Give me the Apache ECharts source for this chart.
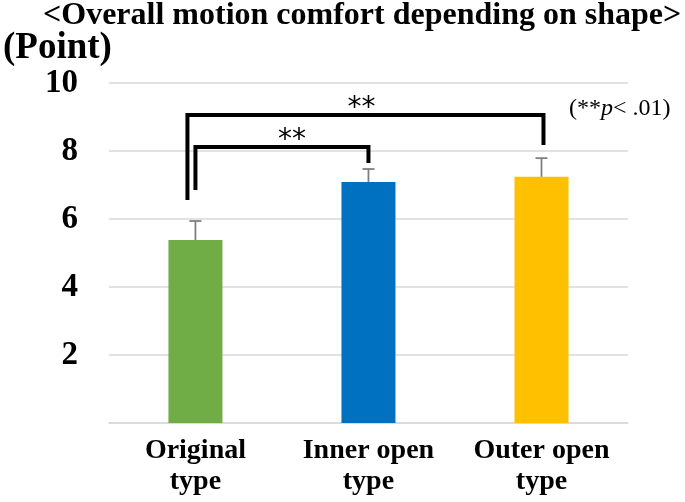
<!DOCTYPE html>
<html>
<head>
<meta charset="utf-8">
<script src="https://cdn.jsdelivr.net/npm/echarts@6/dist/echarts.min.js"></script>
<style>html,body{margin:0;padding:0;background:#fff;}#c{width:685px;height:502px;}</style>
</head>
<body>
<div id="c"></div>
<script>
var categories = ['Original\ntype', 'Inner open\ntype', 'Outer open\ntype'];
var means = [5.38, 7.09, 7.24];
var errUpper = [5.94, 7.47, 7.79];
var barColors = ['#70ad47', '#0070c0', '#ffc000'];
var yTicks = [2, 4, 6, 8, 10];
// brackets: [fromCategory, toCategory, topValue, leftBottomValue, rightBottomValue, label]
var brackets = [
  [0, 2, 9.06, 6.56, 8.18, '**'],
  [0, 1, 8.12, 6.85, 7.65, '**']
];
var bracketOffsets = [[-8, 2, -4], [0, 0, 10]]; // left px, right px, label x shift

var SERIF = '"Liberation Serif","Times New Roman",serif';
var chart = echarts.init(document.getElementById('c'));

chart.setOption({
  animation: false,
  backgroundColor: '#fff',
  title: [
    {
      text: '<Overall motion comfort depending on shape>',
      left: 38, top: -5,
      textStyle: {fontFamily: SERIF, fontWeight: 'bold', fontSize: 32, color: '#000'}
    },
    {
      text: '{a|(**}{b|p}{a|< .01)}',
      left: 564, top: 92,
      textStyle: {
        fontWeight: 'normal',
        rich: {
          a: {fontFamily: SERIF, fontSize: 24, fontWeight: 'normal', color: '#000'},
          b: {fontFamily: SERIF, fontSize: 24, fontWeight: 'normal', fontStyle: 'italic', color: '#000'}
        }
      }
    }
  ],
  grid: {left: 106, right: 57, top: 83, bottom: 79},
  xAxis: {
    type: 'category',
    data: categories,
    axisLine: {lineStyle: {color: '#d9d9d9', width: 1.5}},
    axisTick: {show: false},
    axisLabel: {
      fontFamily: SERIF, fontWeight: 'bold', fontSize: 28, color: '#000',
      lineHeight: 31, margin: 12, interval: 0
    }
  },
  yAxis: {
    type: 'value', min: 0, max: 10, interval: 2,
    name: '(Point)',
    nameLocation: 'end',
    nameGap: 31,
    nameTextStyle: {fontFamily: SERIF, fontWeight: 'bold', fontSize: 37, color: '#000', align: 'right', verticalAlign: 'middle', padding: [0, -3, 0, 0]},
    axisLine: {show: false},
    axisTick: {show: false},
    splitLine: {lineStyle: {color: '#d9d9d9', width: 1.5}},
    axisLabel: {
      fontFamily: SERIF, fontWeight: 'bold', fontSize: 33, color: '#000', margin: 31,
      formatter: function (v) { return yTicks.indexOf(v) >= 0 ? String(v) : ''; }
    }
  },
  series: [
    {
      type: 'bar',
      data: means.map(function (v, i) { return {value: v, itemStyle: {color: barColors[i]}}; }),
      barWidth: 54
    },
    {
      type: 'custom',
      data: means.map(function (v, i) { return [i, v, errUpper[i]]; }),
      z: 5,
      renderItem: function (params, api) {
        var p0 = api.coord([api.value(0), api.value(1)]);
        var p1 = api.coord([api.value(0), api.value(2)]);
        var st = {stroke: '#7f7f7f', lineWidth: 1.8};
        return {type: 'group', children: [
          {type: 'line', shape: {x1: p0[0], y1: p0[1], x2: p1[0], y2: p1[1]}, style: st},
          {type: 'line', shape: {x1: p1[0] - 6, y1: p1[1], x2: p1[0] + 6, y2: p1[1]}, style: st}
        ]};
      }
    },
    {
      type: 'custom',
      data: brackets.map(function (b) { return [b[0], b[1], b[2], b[3], b[4]]; }),
      z: 6,
      renderItem: function (params, api) {
        var i = params.dataIndex;
        var off = bracketOffsets[i];
        var l = api.coord([api.value(0), api.value(2)]);
        var r = api.coord([api.value(1), api.value(2)]);
        var lb = api.coord([api.value(0), api.value(3)]);
        var rb = api.coord([api.value(1), api.value(4)]);
        var xl = l[0] + off[0], xr = r[0] + off[1], yt = l[1];
        var st = {stroke: '#000', fill: null, lineWidth: 4, lineJoin: 'miter'};
        return {type: 'group', children: [
          {type: 'polyline', shape: {points: [[xl, lb[1]], [xl, yt], [xr, yt], [xr, rb[1]]]}, style: st},
          {type: 'text', style: {text: brackets[i][5], x: (xl + xr) / 2 + off[2], y: yt - 6,
            align: 'center', verticalAlign: 'middle',
            font: '28px "DejaVu Sans", sans-serif', fill: '#000'}}
        ]};
      }
    }
  ]
});
</script>
</body>
</html>
